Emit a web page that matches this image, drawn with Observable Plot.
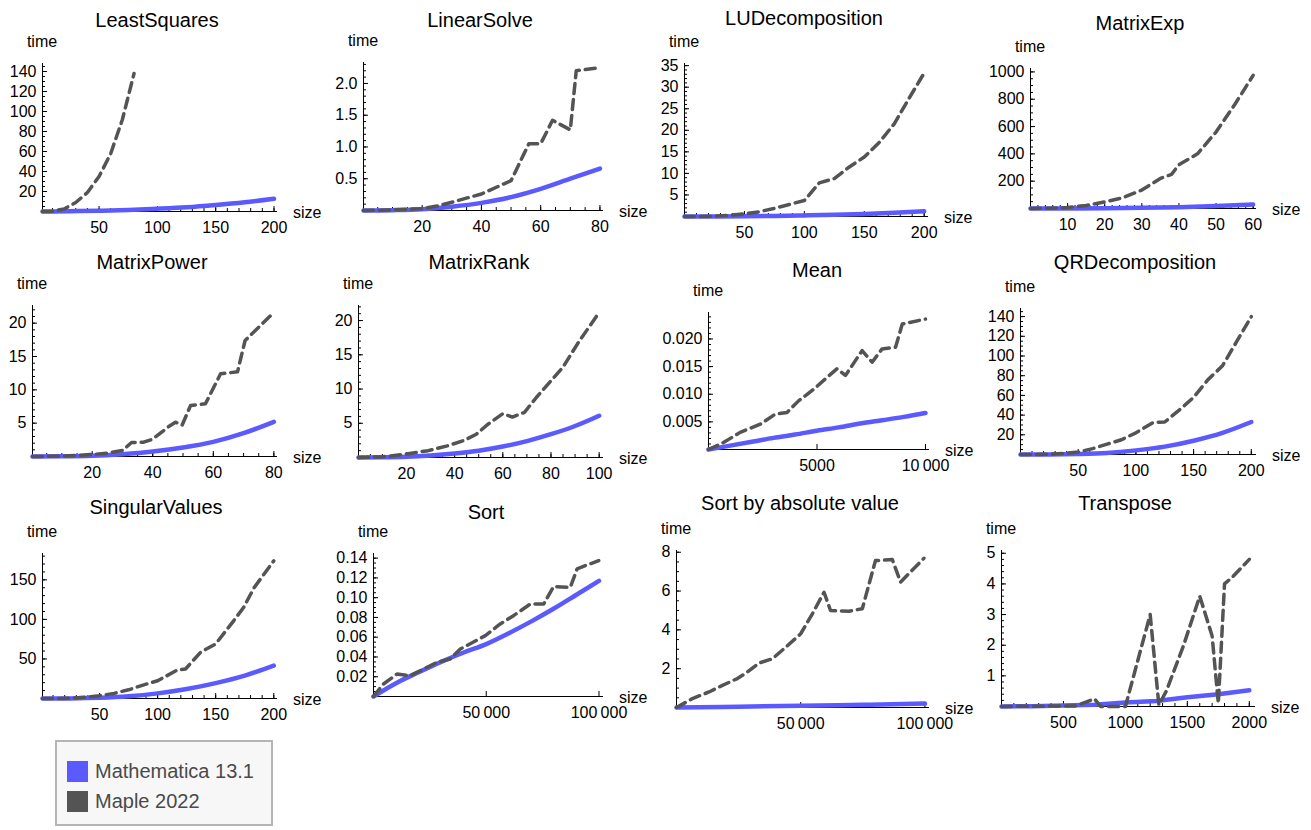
<!DOCTYPE html>
<html><head><meta charset="utf-8">
<script src="https://cdn.jsdelivr.net/npm/d3@7"></script>
<script src="https://cdn.jsdelivr.net/npm/@observablehq/plot@0.6"></script>
<style>
body{margin:0;background:#fff;font-family:"Liberation Sans",Arial,sans-serif;}
#root{position:relative;width:1311px;height:830px;overflow:hidden;background:#fff;}
.t{position:absolute;white-space:nowrap;color:#000;line-height:1;}
.legend{position:absolute;left:55px;top:740px;width:218px;height:86px;border:2px solid #b4b4b4;background:#f7f7f7;box-sizing:border-box;}
.lrow{position:absolute;left:10px;height:22px;display:flex;align-items:center;font-size:20px;color:#4a4a4a;}
.sw{width:21px;height:21px;margin-right:7px;box-sizing:border-box;}
</style></head><body><div id="root"></div>
<script>
// ---------- data ----------
const titles = ["LeastSquares","LinearSolve","LUDecomposition","MatrixExp","MatrixPower","MatrixRank","Mean","QRDecomposition","SingularValues","Sort","Sort by absolute value","Transpose"];
const seriesNames = ["Mathematica 13.1","Maple 2022"];
const axisNames = ["size","time"];

const leastSquaresMma = [[1.5,0],[25,0.3],[50,0.8],[75,1.5],[100,2.7],[125,4.2],[150,6.5],[175,9.3],[200,12.8]];
const leastSquaresMaple = [[1.5,0],[10,0.3],[20,2.5],[30,9],[40,19],[50,35],[60,58],[70,92],[80,138]];
const linearSolveMma = [[0.2,0],[10,0.005],[20,0.02],[30,0.06],[40,0.12],[50,0.21],[60,0.34],[70,0.5],[80,0.66]];
const linearSolveMaple = [[0.2,0],[10,0.01],[20,0.03],[25,0.07],[30,0.13],[40,0.26],[50,0.47],[56,1.05],[60,1.05],[64,1.42],[70,1.27],[72,2.2],[80,2.25]];
const luMma = [[0,0],[25,0.01],[50,0.05],[75,0.12],[100,0.25],[125,0.4],[150,0.6],[175,0.85],[200,1.2]];
const luMaple = [[0,0],[12.5,0.02],[25,0.1],[37.5,0.3],[50,0.6],[62.5,1.1],[75,1.9],[87.5,2.8],[100,3.7],[112.5,7.8],[125,8.8],[137.5,11.5],[150,13.8],[162.5,17.2],[175,21.5],[187.5,27.5],[200,33.3]];
const matrixExpMma = [[0,0],[10,0.5],[20,2],[30,5],[40,10],[50,18],[60,29]];
const matrixExpMaple = [[0,0],[5,2],[10,8],[15,22],[20,48],[25,80],[30,135],[35,220],[38,250],[40,320],[45,400],[50,560],[55,760],[60,975]];
const matrixPowerMma = [[0.3,0],[10,0.02],[20,0.1],[30,0.35],[40,0.75],[50,1.35],[60,2.2],[70,3.5],[80,5.2]];
const matrixPowerMaple = [[0.3,0],[10,0.05],[20,0.3],[25,0.5],[30,0.9],[33,2.1],[37,2.15],[40,2.6],[45,4.4],[47.5,5.15],[49.7,4.7],[52.5,7.65],[57.4,7.9],[62.4,12.4],[68,12.7],[70.5,17.4],[80,21.6]];
const matrixRankMma = [[0.1,0],[10,0.02],[20,0.1],[30,0.3],[40,0.6],[50,1.0],[60,1.6],[70,2.4],[80,3.4],[90,4.6],[100,6.1]];
const matrixRankMaple = [[0.1,0],[10,0.1],[20,0.5],[29,1.0],[37,1.7],[44,2.5],[49,3.4],[54,4.9],[60,6.4],[64,5.9],[69,6.6],[74,8.8],[80,11.2],[85,13.2],[91,16.6],[100,21.2]];
const meanMma = [[0,0],[1000,0.0007],[2000,0.0014],[3000,0.0021],[4000,0.0027],[5000,0.0034],[6000,0.004],[7000,0.0047],[8000,0.0053],[9000,0.0059],[10000,0.0066]];
const meanMaple = [[0,0],[690,0.00125],[1460,0.0031],[2390,0.0046],[3080,0.0064],[3620,0.0067],[4150,0.0088],[4850,0.0109],[5390,0.0128],[5920,0.0146],[6310,0.0134],[7080,0.0179],[7540,0.0158],[8000,0.0182],[8620,0.0185],[8930,0.0227],[10000,0.0236]];
const qrMma = [[0,0],[25,0.05],[50,0.5],[75,1.6],[100,4.2],[125,8],[150,14],[175,22],[200,33]];
const qrMaple = [[0,0],[12.5,0.05],[25,0.3],[37.5,1],[50,2.5],[62.5,6],[75,10.5],[87.5,15],[100,22],[115,32.5],[125,33],[137.5,45],[150,58],[162.5,76],[175,90],[187.5,115],[200,140]];
const singularValuesMma = [[0.9,0],[25,0.1],[50,0.8],[75,2.7],[100,6.5],[125,12],[150,19.5],[175,29],[200,41.5]];
const singularValuesMaple = [[0.9,0],[12.5,0.05],[25,0.4],[37.5,1.5],[50,3.5],[62.5,6.5],[75,11],[87.5,17],[100,22.5],[117,36],[124,37.3],[137,58.4],[150,69],[165.6,98.5],[174,115],[183,140],[200,174]];
const sortMma = [[0,0],[10000,0.0135],[20000,0.0245],[30000,0.035],[40000,0.0445],[50000,0.053],[60000,0.064],[70000,0.076],[80000,0.089],[90000,0.103],[100000,0.117]];
const sortMaple = [[0,0],[4400,0.0126],[10400,0.0227],[16300,0.021],[20700,0.026],[28100,0.0345],[34000,0.0379],[38500,0.0481],[49600,0.0616],[56200,0.0734],[62100,0.0818],[69600,0.0937],[75500,0.0937],[79900,0.1113],[87300,0.1105],[90300,0.1292],[99900,0.1376]];
const sortAbsMma = [[0,0],[25000,0.04],[50000,0.09],[75000,0.14],[100000,0.2]];
const sortAbsMaple = [[0,0],[6400,0.46],[13100,0.8],[18500,1.14],[24500,1.49],[28600,1.83],[33200,2.29],[38600,2.51],[44000,3.11],[50000,3.8],[54700,4.83],[59400,5.94],[62000,5.0],[69400,4.96],[74800,5.09],[80100,7.57],[86900,7.62],[90200,6.46],[99600,7.69]];
const transposeMma = [[0,0],[250,0.01],[500,0.03],[750,0.06],[1000,0.13],[1250,0.18],[1500,0.3],[1750,0.4],[2000,0.53]];
const transposeMaple = [[0,0],[600,0.02],[750,0.25],[800,0],[1000,0],[1200,3.0],[1270,0.05],[1330,0.5],[1470,2.0],[1600,3.6],[1700,2.3],[1750,0.1],[1800,4.0],[1870,4.25],[2000,4.8]];

const mmaSeries = [leastSquaresMma,linearSolveMma,luMma,matrixExpMma,matrixPowerMma,matrixRankMma,meanMma,qrMma,singularValuesMma,sortMma,sortAbsMma,transposeMma];
const mapleSeries = [leastSquaresMaple,linearSolveMaple,luMaple,matrixExpMaple,matrixPowerMaple,matrixRankMaple,meanMaple,qrMaple,singularValuesMaple,sortMaple,sortAbsMaple,transposeMaple];

const xTicks = [[50,100,150,200],[20,40,60,80],[50,100,150,200],[10,20,30,40,50,60],[20,40,60,80],[20,40,60,80,100],[5000,10000],[50,100,150,200],[50,100,150,200],[50000,100000],[50000,100000],[500,1000,1500,2000]];
const yTicks = [[20,40,60,80,100,120,140],[0.5,1,1.5,2],[5,10,15,20,25,30,35],[200,400,600,800,1000],[5,10,15,20],[5,10,15,20],[0.005,0.01,0.015,0.02],[20,40,60,80,100,120,140],[50,100,150],[0.02,0.04,0.06,0.08,0.1,0.12,0.14],[2,4,6,8],[1,2,3,4,5]];
const xMinorStep = [10,5,10,2,5,5,0,10,10,0,0,100];
const yMinorStep = [5,0.1,1,50,1,1,0.001,5,10,0.005,0.5,0.2];
const yFormats = ["d",".1f","d","d","d","d",".3f","d","d",".2f","d","d"];
const xDomains = [[1.5,203],[0.2,81.2],[0,203.6],[0,60.9],[0.3,81.2],[0.1,101.8],[0,10185],[0,204.5],[0.9,203.2],[0,102000],[0,101850],[0,2050]];
const yMax = [148,2.33,35.5,1025,22.65,22.2,0.02479,148.2,183.3,0.1447,8.09,5.09];

// ---------- layout (pixels) ----------
const layout = [
  {L:42,T:63,R:277,B:211,tx:157,ty:20},
  {L:363,T:62,R:603,B:210,tx:480,ty:20},
  {L:684,T:63,R:928,B:216,tx:804,ty:18},
  {L:1030,T:68,R:1256,B:208,tx:1140,ty:23},
  {L:32,T:305,R:277,B:456,tx:152,ty:262},
  {L:358,T:305,R:603,B:457,tx:479,ty:262},
  {L:708,T:312,R:929,B:449,tx:817,ty:270},
  {L:1020,T:308,R:1256,B:454,tx:1135,ty:262},
  {L:42,T:553,R:277,B:698,tx:156,ty:507},
  {L:373,T:553,R:603,B:696,tx:486,ty:512},
  {L:676,T:550,R:929,B:707,tx:800,ty:503},
  {L:1001,T:550,R:1255,B:706,tx:1125,ty:503}
];

const BLUE = "#5a5aff", GRAY = "#545454";
const root = document.getElementById("root");

function minorTicks(step, lo, hi){
  if (!step) return [];
  const out = [];
  for (let k = Math.ceil(lo/step - 1e-9); k*step <= hi + 1e-9; k++) out.push(+(k*step).toFixed(10));
  return out;
}
function fmtX(v){ return v >= 10000 ? d3.format(",")(v).replace(/,/g, "\u2009") : String(v); }

function addText(txt, x, y, size, anchor){
  const d = document.createElement("div");
  d.className = "t";
  d.textContent = txt;
  d.style.fontSize = size + "px";
  d.style.left = x + "px";
  d.style.top = y + "px";
  d.style.transform = anchor === "center" ? "translate(-50%,-50%)" : "translate(0,-50%)";
  root.appendChild(d);
}

const mL = 60, mR = 20, mT = 10, mB = 32;
for (let i = 0; i < 12; i++){
  const g = layout[i];
  const xd = xDomains[i];
  const yf = d3.format(yFormats[i]);
  const xs = d => d[0], ys = d => d[1];
  const svg = Plot.plot({
    width: g.R - g.L + mL + mR,
    height: g.B - g.T + mT + mB,
    marginLeft: mL, marginRight: mR, marginTop: mT, marginBottom: mB,
    x: {domain: xd},
    y: {domain: [0, yMax[i]]},
    style: {fontFamily: "'Liberation Sans', Arial, sans-serif", fontSize: "16px", color: "#000", background: "transparent", overflow: "visible"},
    marks: [
      Plot.ruleX([xd[0]], {stroke: "#000", strokeWidth: 1}),
      Plot.ruleY([0], {stroke: "#000", strokeWidth: 1}),
      Plot.axisX(minorTicks(xMinorStep[i], xd[0], xd[1]), {tickSize: -3, tickFormat: () => "", label: null, stroke: "#000"}),
      Plot.axisY(minorTicks(yMinorStep[i], 0, yMax[i]), {tickSize: -3, tickFormat: () => "", label: null, stroke: "#000"}),
      Plot.axisX(xTicks[i], {tickSize: -5, tickFormat: () => "", label: null, stroke: "#000"}),
      Plot.axisY(yTicks[i], {tickSize: -5, tickFormat: () => "", label: null, stroke: "#000"}),
      Plot.axisX(xTicks[i], {tickSize: 0, tickPadding: 10, tickFormat: fmtX, label: null, fill: "#000"}),
      Plot.axisY(yTicks[i], {tickSize: 0, tickPadding: 6, tickFormat: yf, label: null, fill: "#000"}),
      Plot.line(mmaSeries[i], {x: xs, y: ys, stroke: BLUE, strokeWidth: 4.5, curve: i === 11 ? "linear" : "monotone-x"}),
      Plot.line(mapleSeries[i], {x: xs, y: ys, stroke: GRAY, strokeWidth: 3.5, strokeDasharray: "10,6"})
    ]
  });
  svg.style.position = "absolute";
  svg.style.left = (g.L - mL) + "px";
  svg.style.top = (g.T - mT) + "px";
  root.appendChild(svg);
}
for (let i = 0; i < 12; i++){
  const g = layout[i];
  addText(titles[i], g.tx, g.ty, 20, "center");
  addText(axisNames[1], g.L, g.T - 21, 16, "center");
  addText(axisNames[0], g.R + 16, g.B + 1.5, 16, "left");
}

// legend
const lg = document.createElement("div");
lg.className = "legend";
const swColors = [BLUE, GRAY];
seriesNames.forEach((name, k) => {
  const row = document.createElement("div");
  row.className = "lrow";
  row.style.top = (18 + k * 30) + "px";
  const sw = document.createElement("div");
  sw.className = "sw";
  sw.style.background = swColors[k];
  row.appendChild(sw);
  const tx = document.createElement("span");
  tx.textContent = name;
  row.appendChild(tx);
  lg.appendChild(row);
});
root.appendChild(lg);
</script></body></html>
